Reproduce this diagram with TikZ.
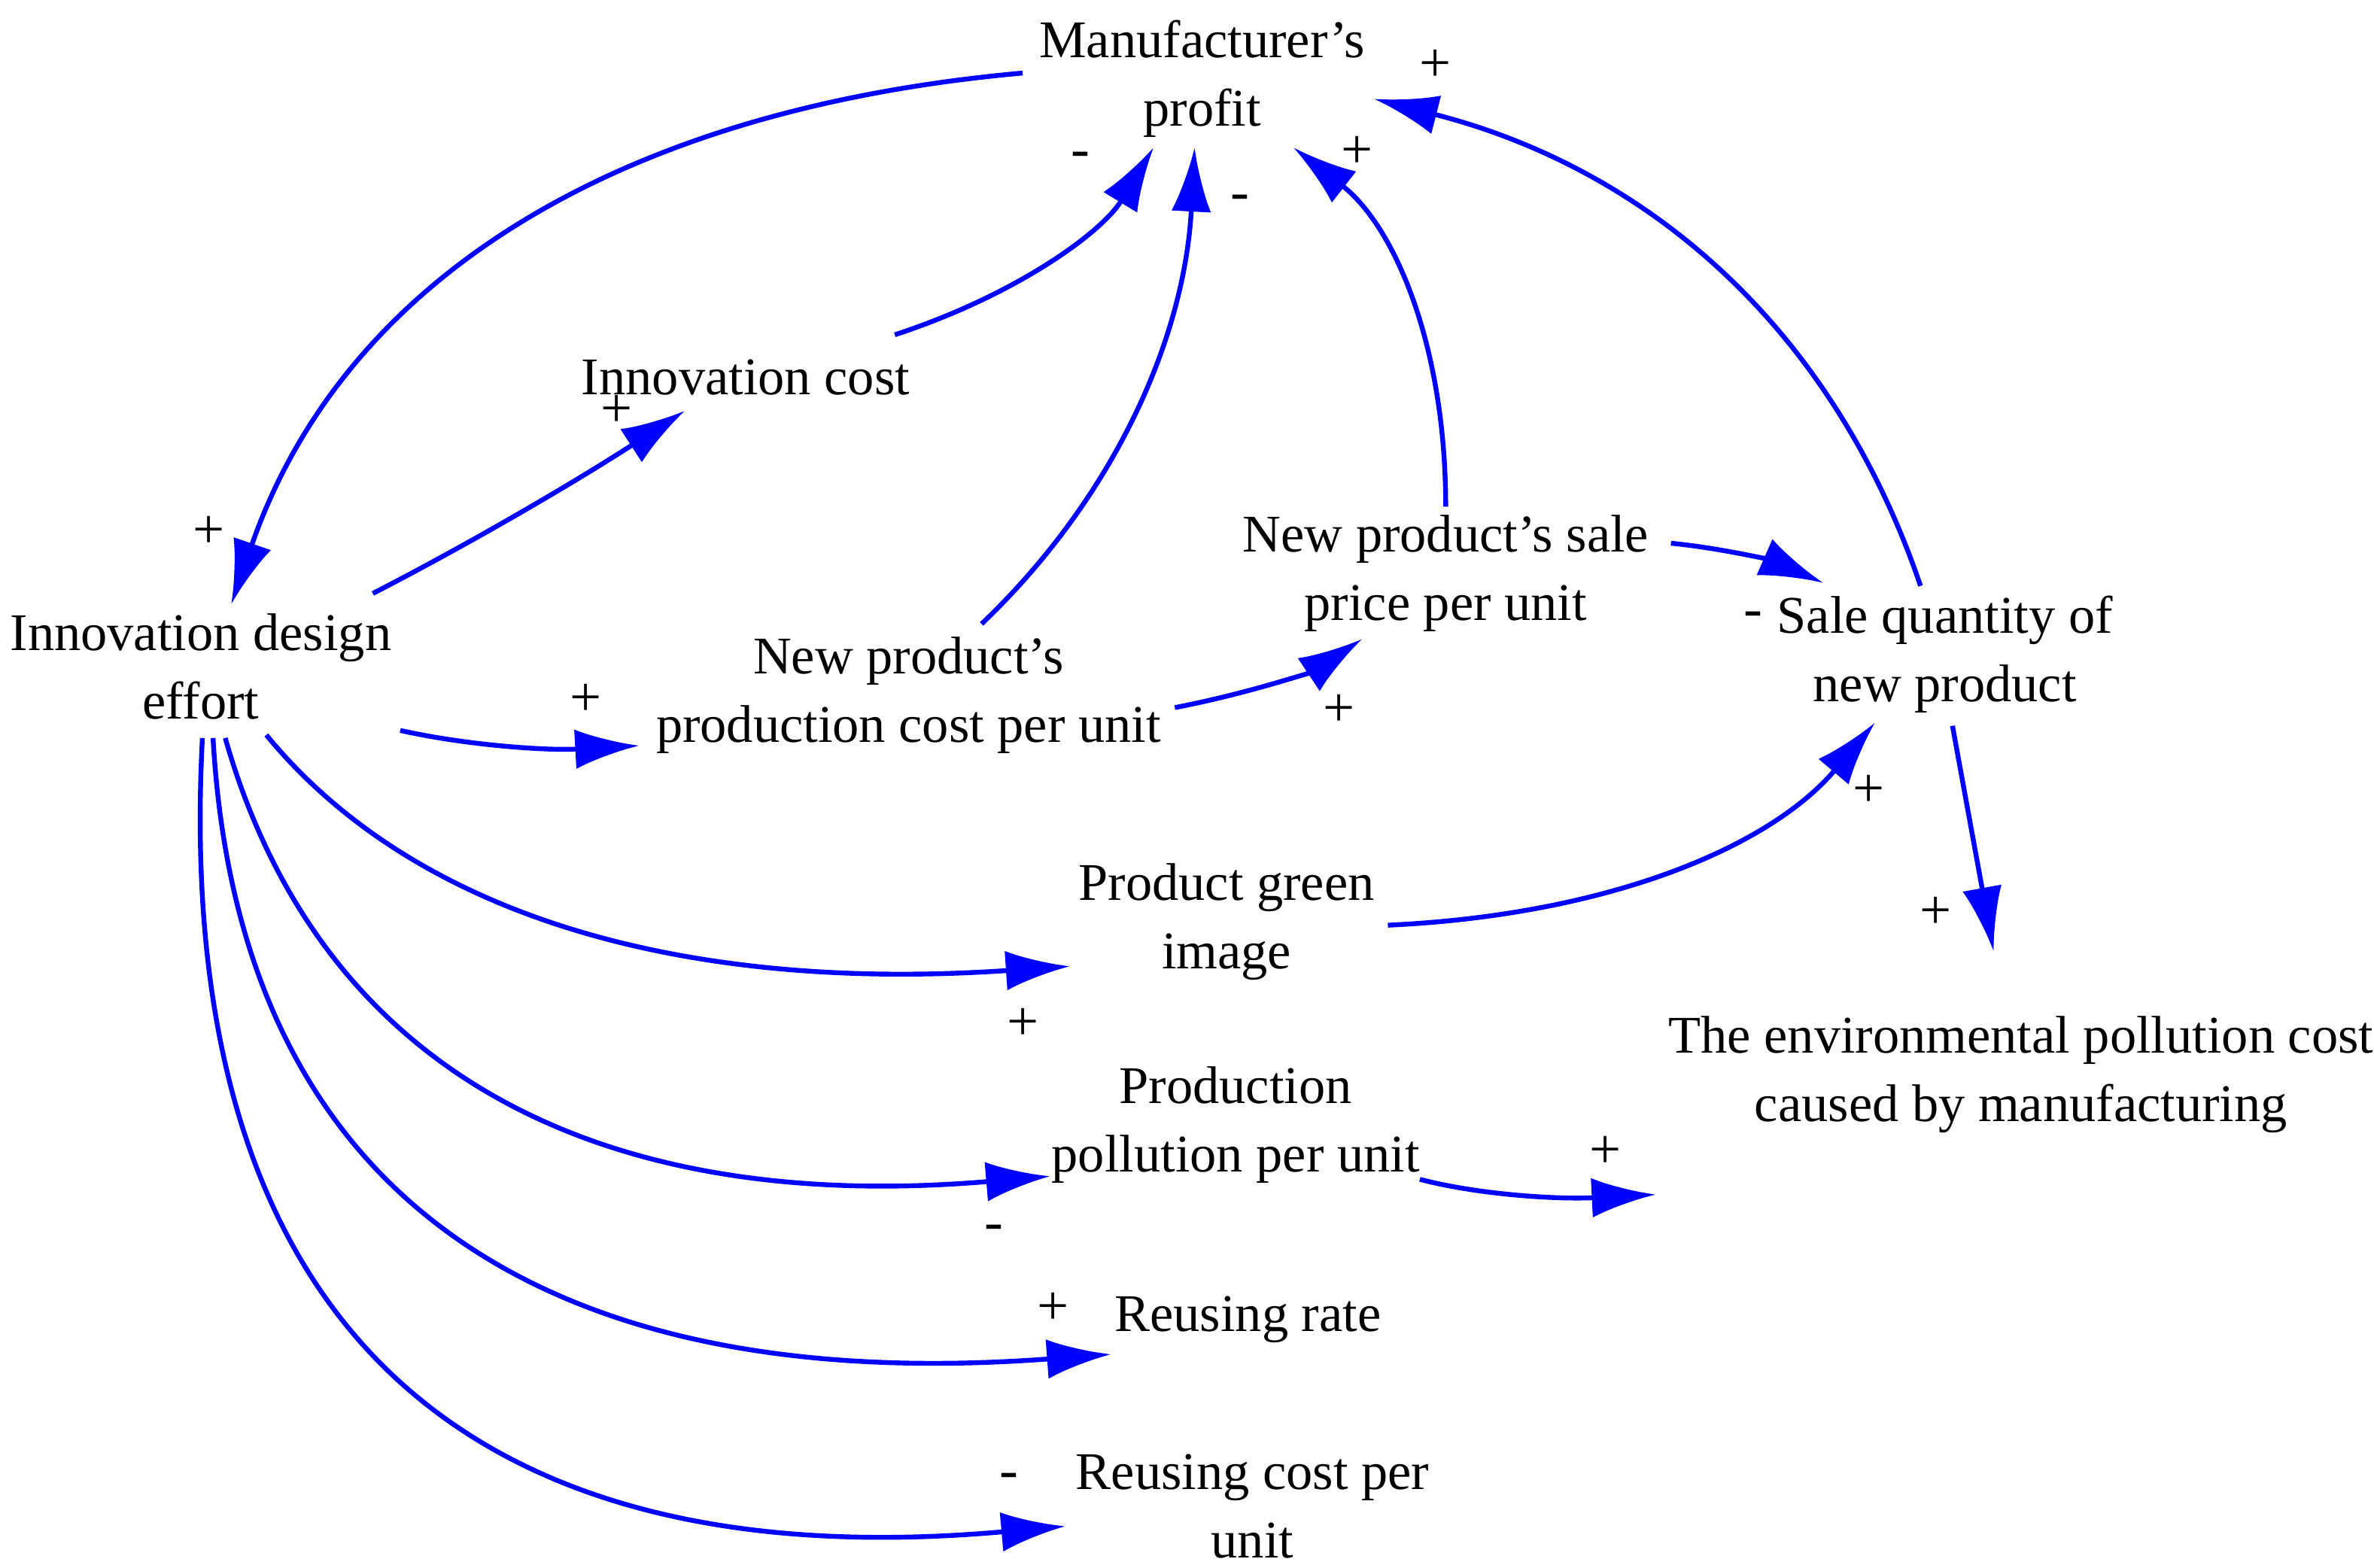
\documentclass[tikz,border=0pt]{standalone}
\usepackage{fontspec}
\setmainfont{Liberation Serif}
\usetikzlibrary{arrows.meta,calc}
\tikzset{
  var/.style={align=center,font=\fontsize{9.9}{12.8}\selectfont,inner sep=1pt},
  link/.style={draw=blue,line width=0.9pt,-{Latex[length=0.42cm,width=0.26cm]},fill=none},
  pol/.style={font=\fontsize{10.5}{10.5}\selectfont}
}
\newcommand\qlink[3]{\draw[link] (#1) .. controls ($(#1)!0.667!(#2)$) and ($(#3)!0.667!(#2)$) .. (#3);}
\begin{document}
\begin{tikzpicture}[x=0.01cm,y=-0.01cm]
	  \useasboundingbox (0,0) rectangle (1560,1030);
	  \node[var] (profit) at (790,52) {Manufacturer's\\profit};
	  \node[var] (icost) at (490,248) {Innovation cost};
	  \node[var] (effort) at (132,438) {Innovation design\\effort};
	  \node[var] (pcost) at (597,457) {New product's\\production cost per unit};
	  \node[var] (price) at (950,377) {New product's sale\\price per unit};
	  \node[var] (sale) at (1278,430) {Sale quantity of\\new product};
	  \node[var] (green) at (806,606) {Product green\\image};
	  \node[var] (env) at (1328,706) {The environmental pollution cost\\caused by manufacturing};
	  \node[var] (poll) at (812,739) {Production\\pollution per unit};
	  \node[var] (rrate) at (820,867) {Reusing rate};
	  \node[var] (rcost) at (823,990) {Reusing cost per\\unit};

	  % connector ends
	  \coordinate (profitW) at (672,48);  \coordinate (profitA) at (758,97);
	  \coordinate (profitB) at (785,97);  \coordinate (profitC) at (850,97);
	  \coordinate (profitD) at (903,65);  \coordinate (effortN) at (152,397);
	  \coordinate (effortNE) at (245,390); \coordinate (effortE) at (263,480);
	  \coordinate (effortS1) at (175,483); \coordinate (effortS2) at (148,485);
	  \coordinate (effortS3) at (140,485); \coordinate (effortS4) at (133,485);
	  \coordinate (icostE) at (588,220);  \coordinate (icostS) at (450,270);
	  \coordinate (pcostN) at (645,410);  \coordinate (pcostW) at (420,490);
	  \coordinate (pcostE) at (772,465);  \coordinate (priceN) at (950,333);
	  \coordinate (priceE) at (1098,357); \coordinate (priceS) at (895,420);
	  \coordinate (saleN) at (1262,385);  \coordinate (saleW) at (1198,383);
	  \coordinate (saleS) at (1232,475);  \coordinate (saleB) at (1283,477);
	  \coordinate (greenE) at (912,608);  \coordinate (greenW) at (703,635);
	  \coordinate (envN) at (1310,625);   \coordinate (envW) at (1088,785);
	  \coordinate (pollW) at (690,773);   \coordinate (pollE) at (933,775);
	  \coordinate (rrateW) at (730,890);  \coordinate (rcostW) at (700,1003);

	  \qlink{profitW}{260,85}{effortN}
	  \qlink{icostE}{707,181}{profitA}
	  \qlink{effortNE}{342,340}{icostS}
	  \qlink{pcostN}{775,286}{profitB}
	  \qlink{priceN}{950,175}{profitC}
	  \qlink{saleN}{1177,135}{profitD}
	  \qlink{priceE}{1150,362}{saleW}
	  \qlink{effortE}{330,495}{pcostW}
	  \qlink{pcostE}{850,450}{priceS}
	  \qlink{greenE}{1128,598}{saleS}
	  \draw[link] (saleB) -- (envN);
	  \qlink{effortS1}{321,661}{greenW}
	  \qlink{effortS2}{241,811}{pollW}
	  \qlink{effortS3}{165,932}{rrateW}
	  \qlink{effortS4}{103,1056}{rcostW}
	  \qlink{pollE}{990,790}{envW}

	  % polarities
	  \foreach \x/\y/\s in {943/43/+, 710/105/-, 815/133/-, 892/100/+, 405/270/+, 137/350/+,
	    385/460/+, 880/467/+, 1228/520/+, 672/673/+, 1272/600/+, 653/810/-, 1055/757/+,
	    692/860/+, 663/973/-, 1152/407/-}
	    \node[pol] at (\x,\y) {\s};
	\end{tikzpicture}
\end{document}
